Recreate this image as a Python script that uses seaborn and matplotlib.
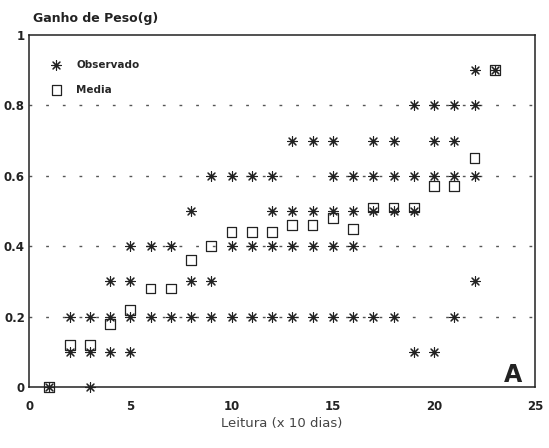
import pandas as pd
import seaborn as sns
import matplotlib
matplotlib.use("Agg")
import matplotlib.pyplot as plt

# observed weight gain per reading (x 10 days)
obs_day = [1,
           2, 2,
           3, 3, 3,
           4, 4, 4,
           5, 5, 5, 5,
           6, 6,
           7, 7,
           8, 8, 8,
           9, 9, 9,
           10, 10, 10,
           11, 11, 11,
           12, 12, 12, 12,
           13, 13, 13, 13,
           14, 14, 14, 14,
           15, 15, 15, 15, 15,
           16, 16, 16, 16,
           17, 17, 17, 17,
           18, 18, 18, 18,
           19, 19, 19, 19,
           20, 20, 20, 20,
           21, 21, 21, 21,
           22, 22, 22, 22,
           23]
obs_gain = [0.0,
            0.1, 0.2,
            0.0, 0.1, 0.2,
            0.1, 0.2, 0.3,
            0.1, 0.2, 0.3, 0.4,
            0.2, 0.4,
            0.2, 0.4,
            0.2, 0.3, 0.5,
            0.2, 0.3, 0.6,
            0.2, 0.4, 0.6,
            0.2, 0.4, 0.6,
            0.2, 0.4, 0.5, 0.6,
            0.2, 0.4, 0.5, 0.7,
            0.2, 0.4, 0.5, 0.7,
            0.2, 0.4, 0.5, 0.6, 0.7,
            0.2, 0.4, 0.5, 0.6,
            0.2, 0.5, 0.6, 0.7,
            0.2, 0.5, 0.6, 0.7,
            0.1, 0.5, 0.6, 0.8,
            0.1, 0.6, 0.7, 0.8,
            0.2, 0.6, 0.7, 0.8,
            0.3, 0.6, 0.8, 0.9,
            0.9]

# mean per reading
mean_day = list(range(1, 24))
mean_gain = [0.0, 0.12, 0.12, 0.18, 0.22, 0.28, 0.28, 0.36, 0.40, 0.44,
             0.44, 0.44, 0.46, 0.46, 0.48, 0.45, 0.51, 0.51, 0.51, 0.57,
             0.57, 0.65, 0.90]

ref_lines = [0.2, 0.4, 0.6, 0.8]
x_ticks = [0, 5, 10, 15, 20, 25]
y_ticks = [0, 0.2, 0.4, 0.6, 0.8, 1]
y_labels = ["0", "0.2", "0.4", "0.6", "0.8", "1"]

obs = pd.DataFrame({"dia": obs_day, "ganho": obs_gain})
media = pd.DataFrame({"dia": mean_day, "ganho": mean_gain})

sns.set_style("white")
plt.rcParams["font.family"] = ["DejaVu Sans"]

fig = plt.figure(figsize=(5.49, 4.48), dpi=100)
ax = fig.add_axes([0.053, 0.136, 0.922, 0.786])

# dotted reference lines
for v in ref_lines:
    ax.axhline(v, color="#555555", lw=1.0, ls=(0, (2, 10)), zorder=1)

sns.scatterplot(data=obs, x="dia", y="ganho", ax=ax, marker=(8, 2, 0),
                s=50, color="#222222", linewidth=0.8, label="Observado",
                clip_on=False, zorder=3)
sns.scatterplot(data=media, x="dia", y="ganho", ax=ax, marker="s",
                s=50, facecolor="none", edgecolor="#222222", linewidth=0.9,
                label="Media", clip_on=False, zorder=3)

ax.set_xlim(0, 25)
ax.set_ylim(0, 1)
ax.set_xticks(x_ticks)
ax.set_yticks(y_ticks)
ax.set_yticklabels(y_labels)
ax.tick_params(direction="in", length=3, width=0.8, colors="#222222",
               labelsize=8.5)
ax.tick_params(axis="y", pad=3)
ax.tick_params(axis="x", pad=9)
for lab in ax.get_xticklabels() + ax.get_yticklabels():
    lab.set_fontweight("bold")

for sp in ax.spines.values():
    sp.set_color("#222222")
    sp.set_linewidth(1.1)

ax.set_xlabel("Leitura (x 10 dias)", fontsize=9.5, color="#444444", labelpad=3)
ax.set_ylabel("")
fig.text(0.06, 0.95, "Ganho de Peso(g)", fontsize=9, fontweight="bold",
         color="#222222")
ax.text(0.975, 0.0, "A", transform=ax.transAxes, fontsize=17,
        fontweight="bold", ha="right", va="bottom", color="#222222")

leg = ax.legend(loc="upper left", frameon=False, fontsize=7.5,
                bbox_to_anchor=(0.015, 0.955), handletextpad=0.9,
                labelspacing=1.4)
for t in leg.get_texts():
    t.set_fontweight("bold")

fig.savefig("out.png", dpi=100)
